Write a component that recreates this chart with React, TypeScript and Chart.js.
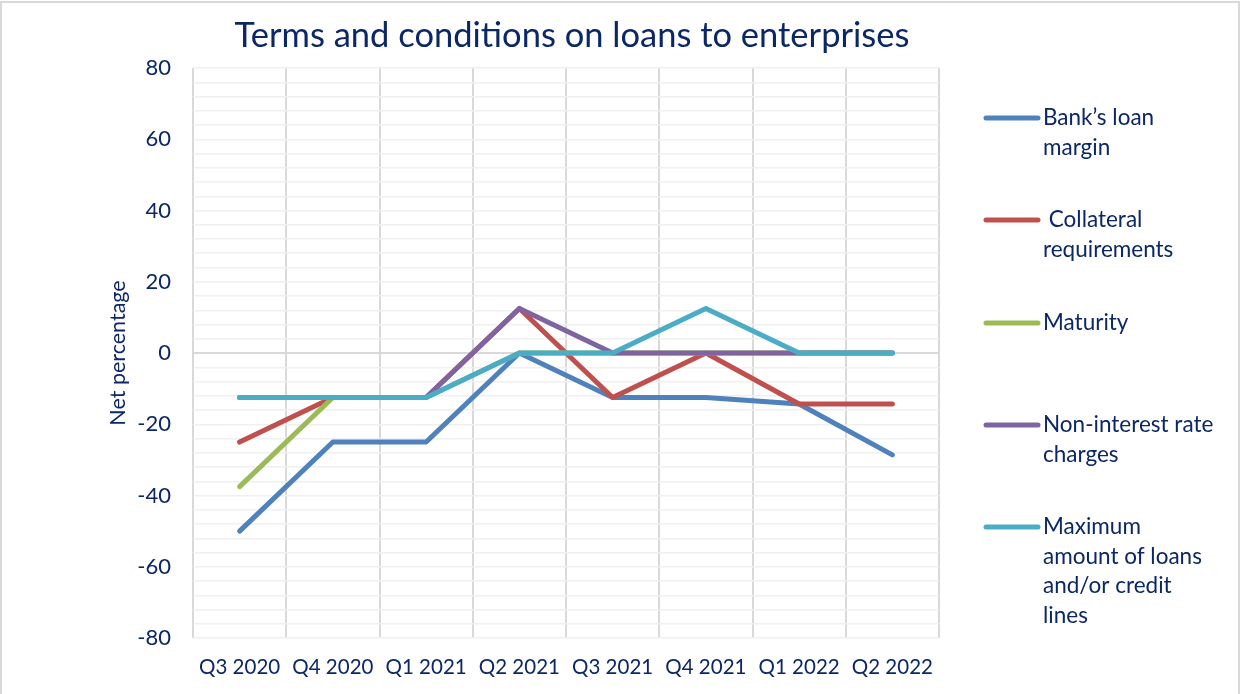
import React, { useEffect, useRef } from 'react';
import { Chart, registerables } from 'chart.js';

Chart.register(...registerables);

const categories = ['Q3 2020', 'Q4 2020', 'Q1 2021', 'Q2 2021', 'Q3 2021', 'Q4 2021', 'Q1 2022', 'Q2 2022'];
const bankLoanMargin = [-50, -25, -25, 0, -12.5, -12.5, -14.3, -28.6];
const collateralRequirements = [-25, -12.5, -12.5, 12.5, -12.5, 0, -14.3, -14.3];
const maturity = [-37.5, -12.5, -12.5, 0, 0, 0, 0, 0];
const nonInterestRateCharges = [-12.5, -12.5, -12.5, 12.5, 0, 0, 0, 0];
const maximumAmount = [-12.5, -12.5, -12.5, 0, 0, 12.5, 0, 0];

const seriesNames = [
  'Bank’s loan margin',
  ' Collateral requirements',
  'Maturity',
  'Non-interest rate charges',
  'Maximum amount of loans and/or credit lines',
];
const legendLines = [
  ['Bank’s loan', 'margin'],
  [' Collateral', 'requirements'],
  ['Maturity'],
  ['Non-interest rate', 'charges'],
  ['Maximum', 'amount of loans', 'and/or credit', 'lines'],
];
const seriesColors = ['#4F81BD', '#C0504D', '#9BBB59', '#8064A2', '#4BACC6'];

const chartTitle = 'Terms and conditions on loans to enterprises';
const yAxisTitle = 'Net percentage';
const yMin = -80;
const yMax = 80;
const yMinorStep = 4;
const yLabelStep = 20;

const FONT = 'Lato';
const TEXT = '#0c2766';

const overlayPlugin = {
  id: 'overlay',
  afterDraw(chart: any) {
    const ctx = chart.ctx;
    ctx.save();
    ctx.fillStyle = TEXT;
    ctx.font = `34.5px ${FONT}`;
    ctx.textAlign = 'center';
    ctx.textBaseline = 'middle';
    ctx.fillText(chartTitle, 572, 36);

    const legendY = [118, 220, 323, 425, 527];
    chart.data.datasets.forEach((ds: any, i: number) => {
      const y = legendY[i];
      ctx.strokeStyle = ds.borderColor;
      ctx.lineWidth = 5;
      ctx.lineCap = 'round';
      ctx.beginPath();
      ctx.moveTo(986, y);
      ctx.lineTo(1038, y);
      ctx.stroke();
      ctx.font = `22.5px ${FONT}`;
      ctx.textAlign = 'left';
      ctx.textBaseline = 'middle';
      ctx.fillStyle = TEXT;
      legendLines[i].forEach((t, j) => ctx.fillText(t, 1043, y + j * 29.5));
    });
    ctx.restore();
  },
};

export default function App() {
  const ref = useRef<HTMLCanvasElement>(null);
  useEffect(() => {
    const series = [bankLoanMargin, collateralRequirements, maturity, nonInterestRateCharges, maximumAmount];
    const chart = new Chart(ref.current!, {
      type: 'line',
      data: {
        labels: categories,
        datasets: series.map((d, i) => ({
          label: seriesNames[i],
          data: d,
          borderColor: seriesColors[i],
          backgroundColor: seriesColors[i],
          borderWidth: 5,
          pointRadius: 0,
          tension: 0,
          borderCapStyle: 'round',
          borderJoinStyle: 'round',
          order: series.length - 1 - i,
        })),
      },
      options: {
        responsive: false,
        animation: false,
        layout: { padding: { top: 68, right: 302, left: 0, bottom: 0 } },
        plugins: {
          legend: { display: false },
          title: { display: false },
          tooltip: { enabled: false },
        },
        scales: {
          x: {
            type: 'category',
            offset: true,
            grid: { offset: true, color: '#d9d9d9', lineWidth: 2, drawTicks: false },
            border: { display: false },
            ticks: { color: TEXT, font: { family: FONT, size: 20.5 }, padding: 17, maxRotation: 0 },
            afterFit: (s: any) => { s.height = 56; },
          },
          y: {
            min: yMin,
            max: yMax,
            grid: {
              color: (c: any) => (c.tick && c.tick.value === 0 ? '#d9d9d9' : '#f0f0f0'),
              lineWidth: (c: any) => (c.tick && c.tick.value === 0 ? 2 : 1.5),
              drawTicks: false,
            },
            border: { display: false },
            ticks: {
              stepSize: yMinorStep,
              autoSkip: false,
              maxTicksLimit: 100,
              color: TEXT,
              font: { family: FONT, size: 22 },
              padding: 22,
              callback: (v: any) => (Number(v) % yLabelStep === 0 ? String(v) : ''),
            },
            title: {
              display: true,
              text: yAxisTitle,
              color: TEXT,
              font: { family: FONT, size: 21.5 },
              padding: { top: 105, bottom: 0 },
            },
            afterFit: (s: any) => { s.width = 193; },
          },
        },
      },
      plugins: [overlayPlugin],
    });
    return () => chart.destroy();
  }, []);

  return (
    <div style={{ position: 'absolute', left: 0, top: 0, width: 1241, height: 694, background: '#fff', overflow: 'hidden' }}>
      <div style={{ position: 'absolute', left: 0, top: 1, width: 1240, height: 720, border: '2px solid #d9d9d9', borderBottom: 'none', boxSizing: 'border-box' }} />
      <canvas ref={ref} width={1241} height={694} style={{ position: 'absolute', left: 0, top: 0 }} />
    </div>
  );
}
